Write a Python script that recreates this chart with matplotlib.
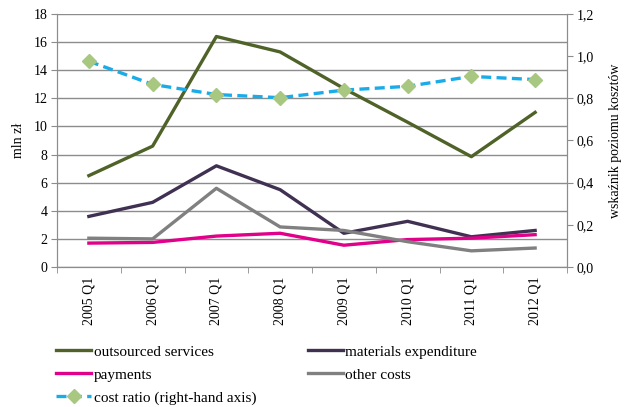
import matplotlib.pyplot as plt
from matplotlib.ticker import FixedLocator, FuncFormatter
import numpy as np

plt.rcParams['font.family'] = ['Liberation Serif', 'DejaVu Serif']

quarters = ["2005 Q1", "2006 Q1", "2007 Q1", "2008 Q1",
            "2009 Q1", "2010 Q1", "2011 Q1", "2012 Q1"]
outsourced = [6.5, 8.6, 16.4, 15.3, 12.7, 10.3, 7.85, 11.0]
materials = [3.6, 4.6, 7.2, 5.5, 2.4, 3.25, 2.15, 2.6]
payments = [1.7, 1.75, 2.2, 2.4, 1.55, 1.95, 2.05, 2.3]
other = [2.05, 2.0, 5.6, 2.85, 2.6, 1.8, 1.15, 1.35]
cost_ratio = [0.976, 0.866, 0.818, 0.803, 0.839, 0.857, 0.904, 0.889]

GRID = "#8c8c8c"

fig = plt.figure(figsize=(6.26, 4.07), dpi=100)
ax = fig.add_axes([57 / 626, 1 - 267 / 407, 510 / 626, 253 / 407])
ax2 = ax.twinx()

x = np.arange(len(quarters))
l1, = ax.plot(x, outsourced, color="#4f6228", lw=2.4, label="outsourced services")
l2, = ax.plot(x, materials, color="#403152", lw=2.4, label="materials expenditure")
l3, = ax.plot(x, payments, color="#e0008a", lw=2.4, label="payments")
l4, = ax.plot(x, other, color="#808080", lw=2.4, label="other costs")
l5, = ax2.plot(x, cost_ratio, color="#1aace8", lw=2.4, ls=(0, (3, 1.6)),
               marker="D", ms=7, mfc="#a8c882", mec="#a8c882",
               label="cost ratio (right-hand axis)")

ax.set_xlim(-0.5, len(quarters) - 0.5)
ax.set_ylim(0, 18)
ax2.set_ylim(0, 1.2)
ax.set_yticks(np.arange(0, 19, 2))
ax2.set_yticks(np.arange(0, 1.21, 0.2))
ax2.yaxis.set_major_formatter(FuncFormatter(lambda v, p: f"{v:.1f}".replace(".", ",")))

ax.set_xticks(x)
ax.set_xticklabels(quarters, rotation=90, fontsize=10)
ax.xaxis.set_minor_locator(FixedLocator(np.arange(-0.5, len(quarters), 1)))
ax.tick_params(axis="x", which="major", length=0, pad=7)
ax.tick_params(axis="x", which="minor", length=4, color=GRID, direction="out")
ax.tick_params(axis="y", length=4, color=GRID, labelsize=10, pad=3)
ax2.tick_params(axis="y", length=4, color=GRID, labelsize=10, pad=3)

ax.grid(axis="y", color=GRID, lw=1)
ax.set_axisbelow(True)
for a in (ax, ax2):
    a.spines["top"].set_visible(False)
    for s in ("left", "right", "bottom"):
        a.spines[s].set_color(GRID)

ax.set_ylabel("mln zł", fontsize=10, labelpad=6)
ax2.set_ylabel("wskaźnik poziomu kosztów", fontsize=10, labelpad=11)

fig.legend(handles=[l1, l3, l5, l2, l4], ncol=2, frameon=False,
           loc="upper left", bbox_to_anchor=(50 / 626, 1 - 339 / 407),
           fontsize=11, handlelength=2.3, handletextpad=0.15, numpoints=1,
           columnspacing=3.4, labelspacing=0.6, borderaxespad=0)

fig.savefig("out.png", dpi=100)
